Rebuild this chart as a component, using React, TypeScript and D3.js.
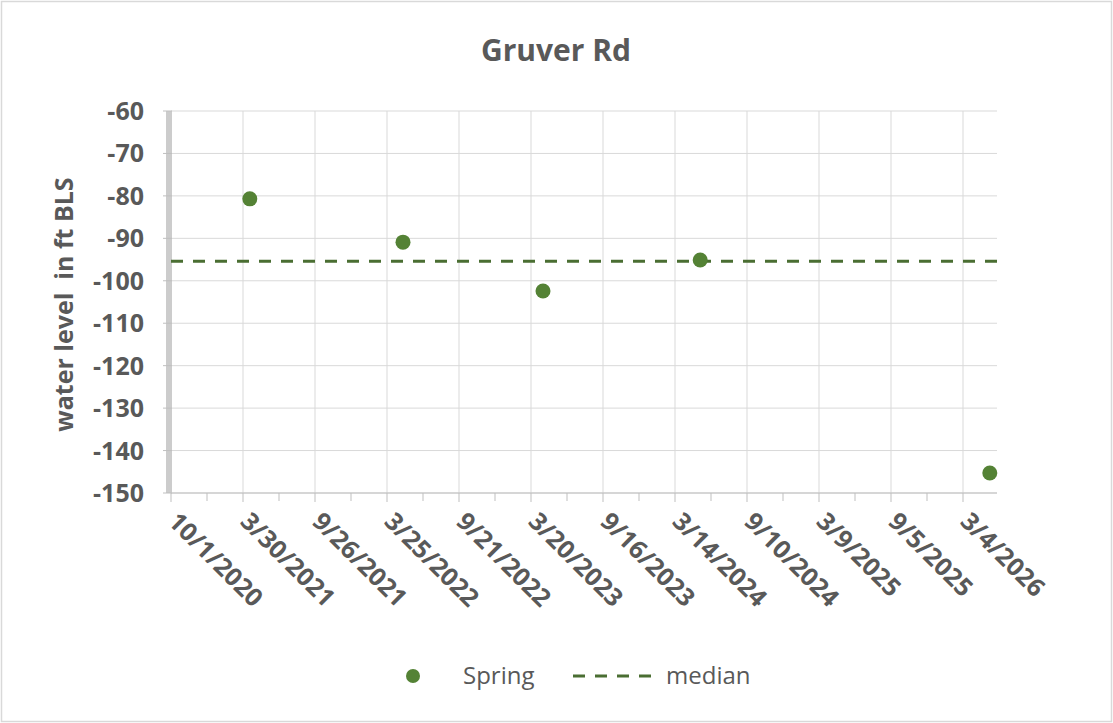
import React from "react";
import * as d3 from "d3";

const TITLE = "Gruver Rd";
const Y_TITLE = "water level  in ft BLS";

const springDates = ["2021-04-16", "2022-05-04", "2023-04-19", "2024-05-16", "2026-05-10"];
const springValues = [-80.7, -90.9, -102.4, -95.1, -145.3];
const medianValue = -95.4;

const xTickLabels = [
  "10/1/2020", "3/30/2021", "9/26/2021", "3/25/2022", "9/21/2022", "3/20/2023",
  "9/16/2023", "3/14/2024", "9/10/2024", "3/9/2025", "9/5/2025", "3/4/2026",
];
const yTicks = [-60, -70, -80, -90, -100, -110, -120, -130, -140, -150];
const xDomain = ["2020-10-01", "2026-05-28"];

const W = 1113, H = 723;
const L = 171, R = 997, T = 111, B = 493;
const FONT = "'Open Sans', 'Liberation Sans', sans-serif";
const TEXT = "#595959";
const GREEN = "#548235";
const DASH = "#4a6e32";

const parseISO = d3.utcParse("%Y-%m-%d");
const parseMDY = d3.utcParse("%m/%d/%Y");

export default function App() {
  const x = d3.scaleUtc().domain(xDomain.map((s) => parseISO(s)!)).range([L, R]);
  const y = d3.scaleLinear().domain([-150, -60]).range([B, T]);
  const majors = xTickLabels.map((s) => parseMDY(s)!);
  const minors = majors.map((d) => d3.utcDay.offset(d, 90)).filter((d) => x(d) <= R);
  const pts = springDates.map((s, i) => ({ d: parseISO(s)!, v: springValues[i] }));

  return (
    <svg width={W} height={H} style={{ position: "absolute", left: 0, top: 0, background: "#fff" }}>
      <rect x={1.5} y={1.5} width={W - 3} height={H - 3} fill="#fff" stroke="#d9d9d9" strokeWidth={1.5} />
      <text x={556} y={61} textAnchor="middle" fontFamily={FONT} fontWeight="bold" fontSize={30} fill={TEXT}>
        {TITLE}
      </text>
      {yTicks.map((v) => (
        <line key={"h" + v} x1={L} x2={R} y1={y(v)} y2={y(v)} stroke="#d9d9d9" strokeWidth={1} />
      ))}
      {majors.map((d, i) => (
        <line key={"v" + i} x1={x(d)} x2={x(d)} y1={T} y2={B} stroke="#d9d9d9" strokeWidth={1} />
      ))}
      <line x1={L} x2={R} y1={B} y2={B} stroke="#bfbfbf" strokeWidth={1.2} />
      {majors.map((d, i) => (
        <line key={"mt" + i} x1={x(d)} x2={x(d)} y1={B} y2={B + 9} stroke="#bfbfbf" strokeWidth={1} />
      ))}
      {minors.map((d, i) => (
        <line key={"nt" + i} x1={x(d)} x2={x(d)} y1={B} y2={B + 8} stroke="#bfbfbf" strokeWidth={1} />
      ))}
      <rect x={166} y={T} width={6} height={B - T} fill="#cccccc" />
      {yTicks.map((v) => (
        <line key={"yt" + v} x1={163} x2={172} y1={y(v)} y2={y(v)} stroke="#bfbfbf" strokeWidth={1} />
      ))}
      {yTicks.map((v) => (
        <text key={"yl" + v} x={144} y={y(v)} dy="0.36em" textAnchor="end" fontFamily={FONT} fontWeight="bold" fontSize={25} fill={TEXT}>
          {String(v)}
        </text>
      ))}
      {majors.map((d, i) => (
        <text key={"xl" + i} transform={`translate(${x(d) - 4},${B + 30}) rotate(45)`} textAnchor="start" fontFamily={FONT} fontWeight="bold" fontSize={25} fill={TEXT}>
          {xTickLabels[i]}
        </text>
      ))}
      <text transform={`translate(73,${(172 + 437) / 2}) rotate(-90)`} textAnchor="middle" fontFamily={FONT} fontWeight="bold" fontSize={25} fill={TEXT} style={{ whiteSpace: "pre" }}>
        {Y_TITLE}
      </text>
      <line x1={L} x2={R} y1={y(medianValue)} y2={y(medianValue)} stroke={DASH} strokeWidth={3} strokeDasharray="12 10" />
      {pts.map((p, i) => (
        <circle key={"p" + i} cx={x(p.d)} cy={y(p.v)} r={7.5} fill={GREEN} />
      ))}
      <circle cx={413} cy={676} r={7} fill={GREEN} />
      <text x={463} y={676} dy="0.35em" fontFamily={FONT} fontSize={24} fill={TEXT}>Spring</text>
      <line x1={573} x2={656} y1={676} y2={676} stroke={DASH} strokeWidth={3} strokeDasharray="12 10" />
      <text x={666} y={676} dy="0.35em" fontFamily={FONT} fontSize={24} fill={TEXT}>median</text>
    </svg>
  );
}
